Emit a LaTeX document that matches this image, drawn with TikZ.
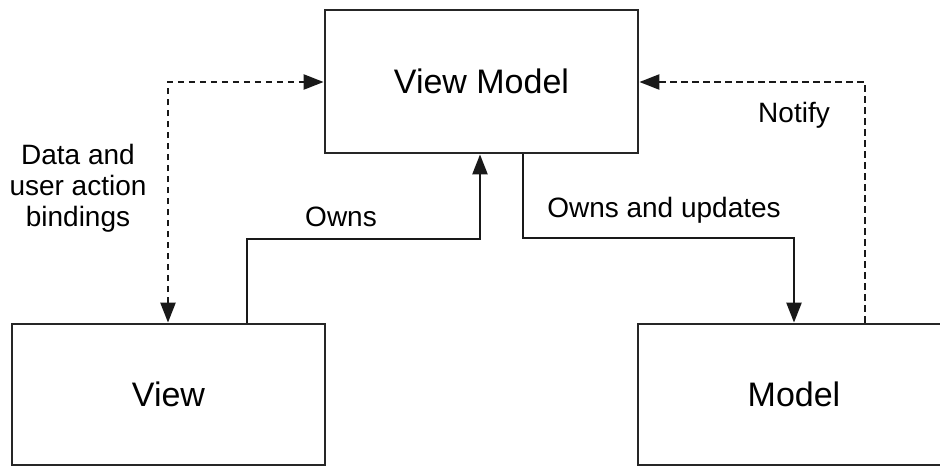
\documentclass[tikz,border=0pt]{standalone}
\usepackage{fontspec}
\setmainfont{Liberation Sans}
\usetikzlibrary{arrows.meta}
\begin{document}
\begin{tikzpicture}[x=1pt,y=-1pt,
  box/.style={draw=black!85, line width=2.8pt, fill=white, inner sep=0pt},
  tip/.style={Triangle[length=20pt,width=15pt]},
  link/.style={draw=black!90, line width=2.4pt, -{Triangle[length=20pt,width=15pt]}},
  dashlink/.style={link, dash pattern=on 6.5pt off 4.5pt},
  lbl/.style={font=\fontsize{28}{31}\selectfont, align=center, inner sep=0pt},
  title/.style={font=\fontsize{34}{38}\selectfont}]
\useasboundingbox (0,0) rectangle (940,467);
\clip (0,0) rectangle (940,467);

% boxes
\node[box, minimum width=313pt, minimum height=143pt] (vm) at (481.5,81.5) {};
\node[box, minimum width=313pt, minimum height=141pt] (v) at (168.5,394.5) {};
\node[box, minimum width=312pt, minimum height=141pt] (m) at (794,394.5) {};

\node[title] (vmt) at (vm.center) {View Model};
\node[title] (vt) at (v.center) {View};
\node[title] (mt) at (m.center) {Model};

% bend points of the connectors
\coordinate (b1) at (168,82);
\coordinate (o1) at (247,239);
\coordinate (o2) at (480,239);
\coordinate (u1) at (523,238);
\coordinate (u2) at (794,238);
\coordinate (n1) at (865,82);

% data and user action bindings
\draw[dashlink, {Triangle[length=20pt,width=15pt]}-{Triangle[length=20pt,width=15pt]}]
  (v.north -| b1) -- (b1) -- (b1 -| vm.west);
% owns
\draw[link] (v.north -| o1) -- (o1) -- (o2) -- (o2 |- vm.south);
% owns and updates
\draw[link] (vm.south -| u1) -- (u1) -- (u2) -- (u2 |- m.north);
% notify
\draw[dashlink] (m.north -| n1) -- (n1) -- (n1 -| vm.east);

% labels
\node[lbl] (ldata) at (78,188) {Data and\\user action\\bindings};
\node[lbl] (lowns) at (341,217) {Owns};
\node[lbl] (lupd) at (664,210) {Owns and updates};
\node[lbl] (lnot) at (794,115) {Notify};
\end{tikzpicture}
\end{document}
